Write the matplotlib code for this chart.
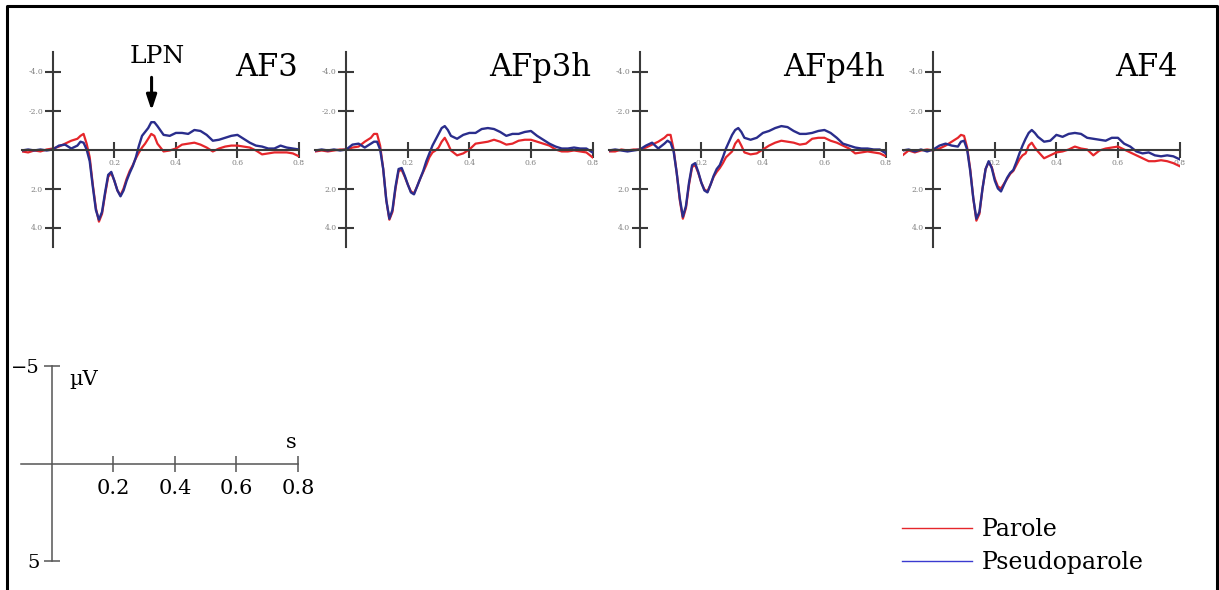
import numpy as np
import matplotlib
matplotlib.use('Agg')
import matplotlib.pyplot as plt
from matplotlib.lines import Line2D

plt.rcParams['font.family'] = ['DejaVu Serif']

# sample times (s): coarse baseline, dense around the early components, coarse late part
time = np.round(np.r_[np.arange(-0.10, 0.081, 0.02),
                      np.arange(0.09, 0.341, 0.01),
                      np.arange(0.36, 0.801, 0.02)], 3)

channels = ['AF3', 'AFp3h', 'AFp4h', 'AF4']

# grand averages in microvolts (negative is plotted up)
af3_parole = [0.1, 0.15, 0.05, 0.1, 0.0, -0.05, -0.15, -0.3, -0.45, -0.55,
              -0.7, -0.8, -0.3, 0.4, 1.8, 3.0, 3.7, 3.3, 2.3, 1.4,
              1.2, 1.6, 2.1, 2.35, 2.0, 1.5, 1.1, 0.8, 0.45, 0.15,
              -0.1, -0.3, -0.55, -0.8, -0.7, -0.3,
              0.1, 0.05, -0.05, -0.25, -0.3, -0.35, -0.25, -0.1, 0.1, -0.05, -0.15, -0.2,
              -0.2, -0.15, -0.1, 0.05, 0.25, 0.2, 0.15, 0.15, 0.15, 0.2, 0.35]
af3_pseudo = [0.05, 0.0, 0.05, 0.0, 0.05, 0.0, -0.2, -0.25, -0.05, -0.2,
              -0.4, -0.35, 0.0, 0.6, 1.9, 3.1, 3.6, 3.2, 2.2, 1.3,
              1.15, 1.6, 2.1, 2.4, 2.1, 1.6, 1.2, 0.85, 0.4, -0.2,
              -0.7, -0.9, -1.1, -1.4, -1.4, -1.2,
              -0.75, -0.7, -0.85, -0.85, -0.8, -1.0, -0.95, -0.75, -0.45, -0.5, -0.6, -0.7,
              -0.75, -0.55, -0.35, -0.2, -0.15, -0.05, -0.05, -0.2, -0.1, -0.05, 0.0]

afp3h_parole = [0.1, 0.05, 0.1, 0.05, 0.0, 0.0, -0.1, -0.15, -0.4, -0.6,
                -0.8, -0.8, -0.2, 1.0, 2.6, 3.6, 3.2, 2.0, 1.1, 1.05,
                1.4, 1.8, 2.15, 2.25, 1.9, 1.5, 1.15, 0.8, 0.4, 0.15,
                0.05, -0.1, -0.4, -0.6, -0.3, 0.05,
                0.3, 0.2, 0.0, -0.3, -0.35, -0.4, -0.5, -0.4, -0.25, -0.3, -0.45, -0.5,
                -0.5, -0.4, -0.3, -0.2, 0.0, 0.1, 0.1, 0.05, 0.1, 0.15, 0.4]
afp3h_pseudo = [0.05, 0.0, 0.05, 0.0, 0.05, 0.0, -0.25, -0.3, -0.1, -0.3,
                -0.4, -0.4, 0.0, 1.0, 2.6, 3.55, 3.1, 1.9, 1.0, 0.95,
                1.35, 1.8, 2.2, 2.3, 1.9, 1.5, 1.1, 0.6, 0.2, -0.2,
                -0.5, -0.8, -1.1, -1.2, -1.0, -0.7,
                -0.55, -0.75, -0.85, -0.85, -1.05, -1.1, -1.05, -0.9, -0.7, -0.8, -0.8, -0.9,
                -0.95, -0.7, -0.5, -0.3, -0.15, -0.05, -0.05, -0.1, -0.05, -0.05, 0.15]

afp4h_parole = [0.1, 0.1, 0.0, 0.05, 0.0, 0.0, -0.1, -0.25, -0.4, -0.6,
                -0.75, -0.75, 0.0, 1.2, 2.6, 3.55, 3.0, 1.8, 0.9, 0.8,
                1.2, 1.7, 2.05, 2.15, 1.8, 1.4, 1.15, 0.95, 0.7, 0.4,
                0.25, 0.1, -0.3, -0.5, -0.2, 0.15,
                0.25, 0.2, 0.0, -0.2, -0.35, -0.45, -0.4, -0.35, -0.25, -0.3, -0.55, -0.6,
                -0.6, -0.45, -0.35, -0.2, -0.05, 0.2, 0.15, 0.1, 0.15, 0.2, 0.35]
afp4h_pseudo = [0.05, 0.0, 0.05, 0.1, 0.05, 0.0, -0.2, -0.35, -0.05, -0.3,
                -0.45, -0.35, 0.1, 1.2, 2.5, 3.45, 2.9, 1.7, 0.8, 0.7,
                1.15, 1.7, 2.1, 2.2, 1.8, 1.35, 1.0, 0.8, 0.4, -0.05,
                -0.4, -0.75, -1.0, -1.1, -0.9, -0.6,
                -0.5, -0.6, -0.85, -0.95, -1.1, -1.2, -1.15, -0.95, -0.8, -0.8, -0.85, -0.95,
                -1.0, -0.85, -0.6, -0.3, -0.2, -0.1, -0.05, -0.05, 0.0, 0.0, 0.2]

af4_parole = [0.3, 0.05, 0.15, 0.05, 0.0, 0.05, -0.05, -0.2, -0.4, -0.6,
              -0.75, -0.7, -0.1, 1.0, 2.5, 3.65, 3.3, 2.0, 1.0, 0.65,
              0.9, 1.5, 1.9, 2.0, 1.75, 1.5, 1.25, 1.1, 0.8, 0.5,
              0.3, 0.2, -0.2, -0.35, -0.1, 0.1,
              0.45, 0.3, 0.15, 0.1, 0.0, -0.15, -0.05, 0.0, 0.3, 0.05, -0.05, -0.1,
              -0.15, 0.0, 0.15, 0.3, 0.45, 0.6, 0.6, 0.55, 0.6, 0.7, 0.85]
af4_pseudo = [0.05, 0.0, 0.1, 0.0, 0.1, 0.0, -0.2, -0.3, -0.2, -0.15,
              -0.4, -0.45, 0.0, 1.1, 2.5, 3.55, 3.2, 2.0, 1.0, 0.6,
              0.95, 1.6, 2.0, 2.15, 1.8, 1.45, 1.2, 1.05, 0.65, 0.2,
              -0.2, -0.55, -0.85, -1.0, -0.85, -0.65,
              -0.4, -0.45, -0.75, -0.65, -0.8, -0.85, -0.8, -0.6, -0.55, -0.5, -0.45, -0.6,
              -0.6, -0.3, -0.15, 0.1, 0.2, 0.15, 0.3, 0.35, 0.3, 0.35, 0.5]

parole = [af3_parole, afp3h_parole, afp4h_parole, af4_parole]
pseudo = [af3_pseudo, afp3h_pseudo, afp4h_pseudo, af4_pseudo]

panel_yticks = [-4, -2, 2, 4]
panel_ytick_labels = ['-4.0', '-2.0', '2.0', '4.0']
time_ticks = [0.2, 0.4, 0.6, 0.8]
time_tick_labels = ['0.2', '0.4', '0.6', '0.8']

RED = '#e5262b'
BLUE = '#2a2d8c'
W, H = 1219, 590

fig = plt.figure(figsize=(W / 100, H / 100), dpi=100)


def erp_axes(left, bottom, color, lw):
    # left/bottom in pixels from the top-left corner; 0.9 s wide, 10 uV tall
    ax = fig.add_axes([left / W, 1 - bottom / H, 277 / W, 195 / H])
    ax.set_xlim(-0.1, 0.8)
    ax.set_ylim(5, -5)
    ax.patch.set_visible(False)
    for s in ('top', 'right'):
        ax.spines[s].set_visible(False)
    for s in ('left', 'bottom'):
        ax.spines[s].set_position(('data', 0))
        ax.spines[s].set_color(color)
        ax.spines[s].set_linewidth(lw)
    ax.tick_params(color=color, width=lw)
    return ax


for i, name in enumerate(channels):
    ax = erp_axes(22 + i * 293.5, 247, '#3a3a3a', 1.5)
    ax.plot(time, parole[i], color=RED, lw=1.6)
    ax.plot(time, pseudo[i], color=BLUE, lw=1.7)
    ax.set_xticks(time_ticks, time_tick_labels)
    ax.set_yticks(panel_yticks, panel_ytick_labels)
    ax.tick_params(axis='both', direction='inout', length=11, labelsize=5.5,
                   labelcolor='#808080', pad=1.5)
    ax.text(0.795, -3.75, name, fontsize=22, ha='right', va='baseline')
    if i == 0:
        ax.text(0.338, -4.45, 'LPN', fontsize=18, ha='center', va='baseline')
        ax.annotate('', xy=(0.321, -2.0), xytext=(0.321, -3.7),
                    arrowprops=dict(arrowstyle='-|>,head_length=0.9,head_width=0.3',
                                    color='black', lw=2.2, shrinkA=0, shrinkB=0))

# calibration axes
sc = erp_axes(21, 561, '#555555', 1.1)
sc.set_xticks(time_ticks, time_tick_labels)
sc.set_yticks([-5, 5], ['\u22125', '5'])
sc.tick_params(axis='both', direction='inout', length=12, labelsize=15, pad=5)
sc.tick_params(axis='y', labelsize=14, pad=3)
sc.text(0.058, -4.3, '\u00b5V', fontsize=15, ha='left', va='center')
sc.text(0.777, -1.1, 's', fontsize=15, ha='center', va='center')

handles = [Line2D([], [], color=RED, lw=1.0), Line2D([], [], color='#3a3ad0', lw=1.0)]
fig.legend(handles, ['Parole', 'Pseudoparole'], loc='upper left',
           bbox_to_anchor=(902 / W, 1 - 518 / H), frameon=False, fontsize=17,
           handlelength=2.97, handletextpad=0.42, labelspacing=0.42, borderpad=0,
           borderaxespad=0)

# frame around the figure (open at the bottom)
fig.add_artist(Line2D([7 / W, 7 / W, 1217 / W, 1217 / W], [0, 1 - 6 / H, 1 - 6 / H, 0],
                      transform=fig.transFigure, color='black', lw=2.2))

fig.savefig('out.png', dpi=100)
